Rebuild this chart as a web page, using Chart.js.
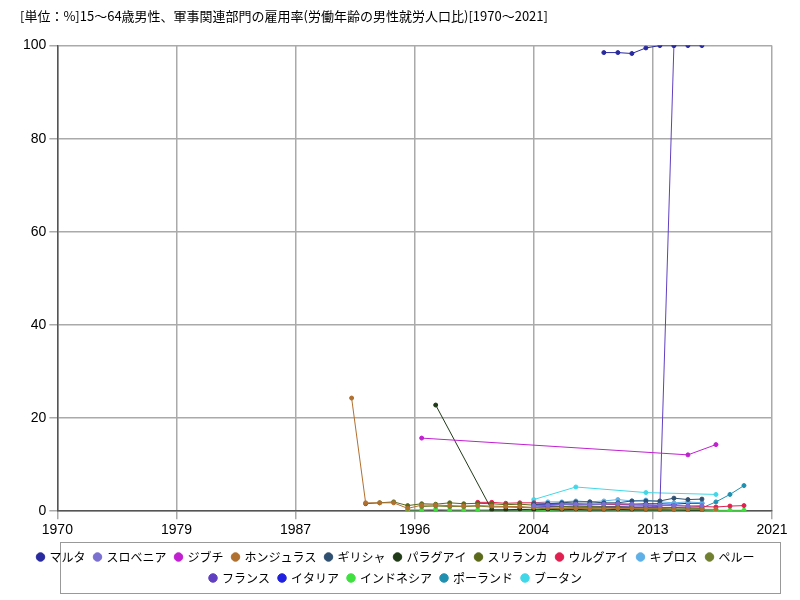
<!DOCTYPE html>
<html><head><meta charset="utf-8">
<script src="https://cdn.jsdelivr.net/npm/chart.js@4/dist/chart.umd.min.js"></script>
<style>body{margin:0;background:#fff}#wrap{width:800px;height:600px;position:relative}</style>
</head><body><div id="wrap"><canvas id="c" width="800" height="600"></canvas></div>
<script>
const xTicks = [1970, 1978.5, 1987, 1995.5, 2004, 2012.5, 2021];
const names = ['マルタ','スロベニア','ジブチ','ホンジュラス','ギリシャ','パラグアイ','スリランカ','ウルグアイ','キプロス','ペルー','フランス','イタリア','インドネシア','ポーランド','ブータン'];
const colors = ['#2a2aa0','#7a70d0','#c020d0','#b07030','#2f5070','#203a18','#5a6a1a','#e02050','#60b0e8','#708030','#6040c0','#2020e0','#40e040','#2090b0','#40d8e8'];
const maltaYears = [2009,2010,2011,2012,2013,2014,2015,2016];
const maltaVals = [98.5,98.5,98.3,99.5,100,100,100,100];
const sloveniaYears = [2004,2005,2006,2007,2008,2009,2010,2011,2012,2013,2014,2015,2016];
const sloveniaVals = [1.2,1.3,1.4,1.5,1.4,1.5,1.6,1.5,1.4,1.3,1.2,1.1,1.2];
const djiboutiYears = [1996,2015,2017];
const djiboutiVals = [15.7,12.1,14.3];
const hondurasYears = [1991,1992,1993,1994,1995,1996,1997,1998,1999,2000,2001,2002,2003,2004,2005,2006,2007,2008,2009,2010,2011,2012,2013,2014,2015,2016,2017];
const hondurasVals = [24.3,1.8,1.8,1.8,0.6,1.3,1.3,1.2,1.1,1.2,1.1,1.0,1.0,0.8,0.7,0.6,0.6,0.5,0.5,0.6,0.6,0.5,0.5,0.4,0.4,0.4,0.4];
const greeceYears = [2004,2005,2006,2007,2008,2009,2010,2011,2012,2013,2014,2015,2016];
const greeceVals = [1.5,1.6,1.8,2.0,2.0,1.8,1.8,2.2,2.2,2.2,2.8,2.5,2.6];
const paraguayYears = [1997,2001,2002,2003,2004,2005,2006,2007,2008,2009,2010,2011,2012,2013,2014,2015,2016];
const paraguayVals = [22.8,0.3,0.3,0.4,0.3,0.4,0.3,0.4,0.3,0.3,0.4,0.3,0.3,0.3,0.3,0.2,0.2];
const sriLankaYears = [1992,1993,1994,1995,1996,1997,1998,1999,2000,2001,2002,2003,2004,2005,2006,2007,2008,2009,2010,2011,2012,2013,2014,2015,2016];
const sriLankaVals = [1.6,1.8,2.0,1.2,1.6,1.5,1.8,1.6,1.7,1.6,1.4,1.5,1.3,1.2,1.0,1.1,1.0,0.9,0.9,0.8,0.8,0.7,0.8,0.7,0.6];
const uruguayYears = [2000,2001,2002,2003,2004,2005,2006,2007,2008,2009,2010,2011,2012,2013,2014,2015,2016,2017,2018,2019];
const uruguayVals = [1.9,1.9,1.7,1.8,1.8,1.7,1.6,1.6,1.5,1.5,1.4,1.4,1.3,1.2,1.2,1.1,1.0,0.9,1.1,1.2];
const cyprusYears = [2004,2005,2006,2007,2008,2009,2010,2011,2012,2013,2014,2015,2016];
const cyprusVals = [1.8,2.0,2.0,2.2,2.0,2.2,2.5,2.2,2.4,2.0,1.8,2.0,1.8];
const peruYears = [1996,1997,1998,1999,2000,2001,2002,2003,2004,2005,2006,2007,2008,2009,2010,2011,2012,2013,2014,2015,2016];
const peruVals = [1.0,1.1,1.0,1.0,1.1,0.9,0.9,0.8,0.7,0.5,0.6,0.7,0.6,0.7,0.8,0.7,0.6,0.6,0.5,0.5,0.4];
const franceYears = [2004,2005,2006,2007,2008,2009,2010,2011,2012,2013,2014];
const franceVals = [0.9,1.0,1.0,1.1,1.1,1.0,1.0,1.1,1.1,1.0,100];
const italyYears = [2004,2005,2006,2007,2008,2009,2010,2011,2012,2013,2014,2015,2016];
const italyVals = [1.4,1.4,1.4,1.5,1.5,1.5,1.5,1.5,1.6,1.6,1.5,1.7,1.7];
const indonesiaYears = [1995,1996,1997,1998,1999,2000,2001,2002,2003,2004,2005,2006,2007,2008,2009,2010,2011,2012,2013,2014,2015,2016,2017,2018,2019];
const indonesiaVals = [0.3,0.3,0.4,0.3,0.3,0.3,0.3,0.3,0.3,0.2,0.2,0.3,0.3,0.3,0.3,0.3,0.3,0.3,0.3,0.3,0.3,0.3,0.2,0.2,0.2];
const polandYears = [2004,2005,2006,2007,2008,2009,2010,2011,2012,2013,2014,2015,2016,2017,2018,2019];
const polandVals = [0.8,0.9,0.9,0.8,0.8,0.8,0.9,0.8,0.8,0.8,0.8,0.7,0.7,2.0,3.6,5.5];
const bhutanYears = [2004,2007,2012,2017];
const bhutanVals = [2.5,5.2,4.0,3.6];

const seriesYears = [maltaYears,sloveniaYears,djiboutiYears,hondurasYears,greeceYears,paraguayYears,sriLankaYears,uruguayYears,cyprusYears,peruYears,franceYears,italyYears,indonesiaYears,polandYears,bhutanYears];
const seriesVals = [maltaVals,sloveniaVals,djiboutiVals,hondurasVals,greeceVals,paraguayVals,sriLankaVals,uruguayVals,cyprusVals,peruVals,franceVals,italyVals,indonesiaVals,polandVals,bhutanVals];

const legendBox = {
  id: 'legendBox',
  beforeDraw(chart) {
    const l = chart.legend, ctx = chart.ctx;
    ctx.save(); ctx.strokeStyle = '#999'; ctx.lineWidth = 1;
    ctx.strokeRect(60.5, l.top + 0.5, 720, l.height - 1);
    ctx.restore();
  }
};

new Chart(document.getElementById('c'), {
  type: 'line',
  data: {
    datasets: names.map((n, i) => ({
      label: n,
      data: seriesYears[i].map((y, j) => ({ x: y, y: seriesVals[i][j] })),
      borderColor: colors[i], backgroundColor: colors[i],
      borderWidth: 1, pointRadius: 2, pointHoverRadius: 2, tension: 0
    }))
  },
  options: {
    responsive: false, animation: false,
    layout: { padding: { left: 20, right: 28, top: 0, bottom: 6 } },
    scales: {
      x: { type: 'linear', min: 1970, max: 2021,
        afterBuildTicks: ax => { ax.ticks = xTicks.map(v => ({ value: v })); },
        ticks: { color: '#000', font: { size: 14 }, autoSkip: false, maxRotation: 0, callback: v => String(Math.round(v)) },
        grid: { color: '#aaa', lineWidth: 1.5 }, border: { color: '#555', width: 1.5 } },
      y: { min: 0, max: 100,
        ticks: { stepSize: 20, color: '#000', font: { size: 14 } },
        grid: { color: '#aaa', lineWidth: 1.5 }, border: { color: '#555', width: 1.5 } }
    },
    plugins: {
      title: { display: true, align: 'start', text: '[単位：%]15～64歳男性、軍事関連部門の雇用率(労働年齢の男性就労人口比)[1970～2021]',
        color: '#000', font: { family: 'Noto Sans CJK JP', size: 13, weight: 'normal' }, padding: { top: 8, bottom: 22 } },
      legend: { position: 'bottom',
        labels: { usePointStyle: true, pointStyle: 'circle', boxWidth: 6, boxHeight: 6, color: '#000',
          font: { family: 'Noto Sans CJK JP', size: 12 }, padding: 9 } },
      tooltip: { enabled: false }
    }
  },
  plugins: [legendBox]
});
</script></body></html>
